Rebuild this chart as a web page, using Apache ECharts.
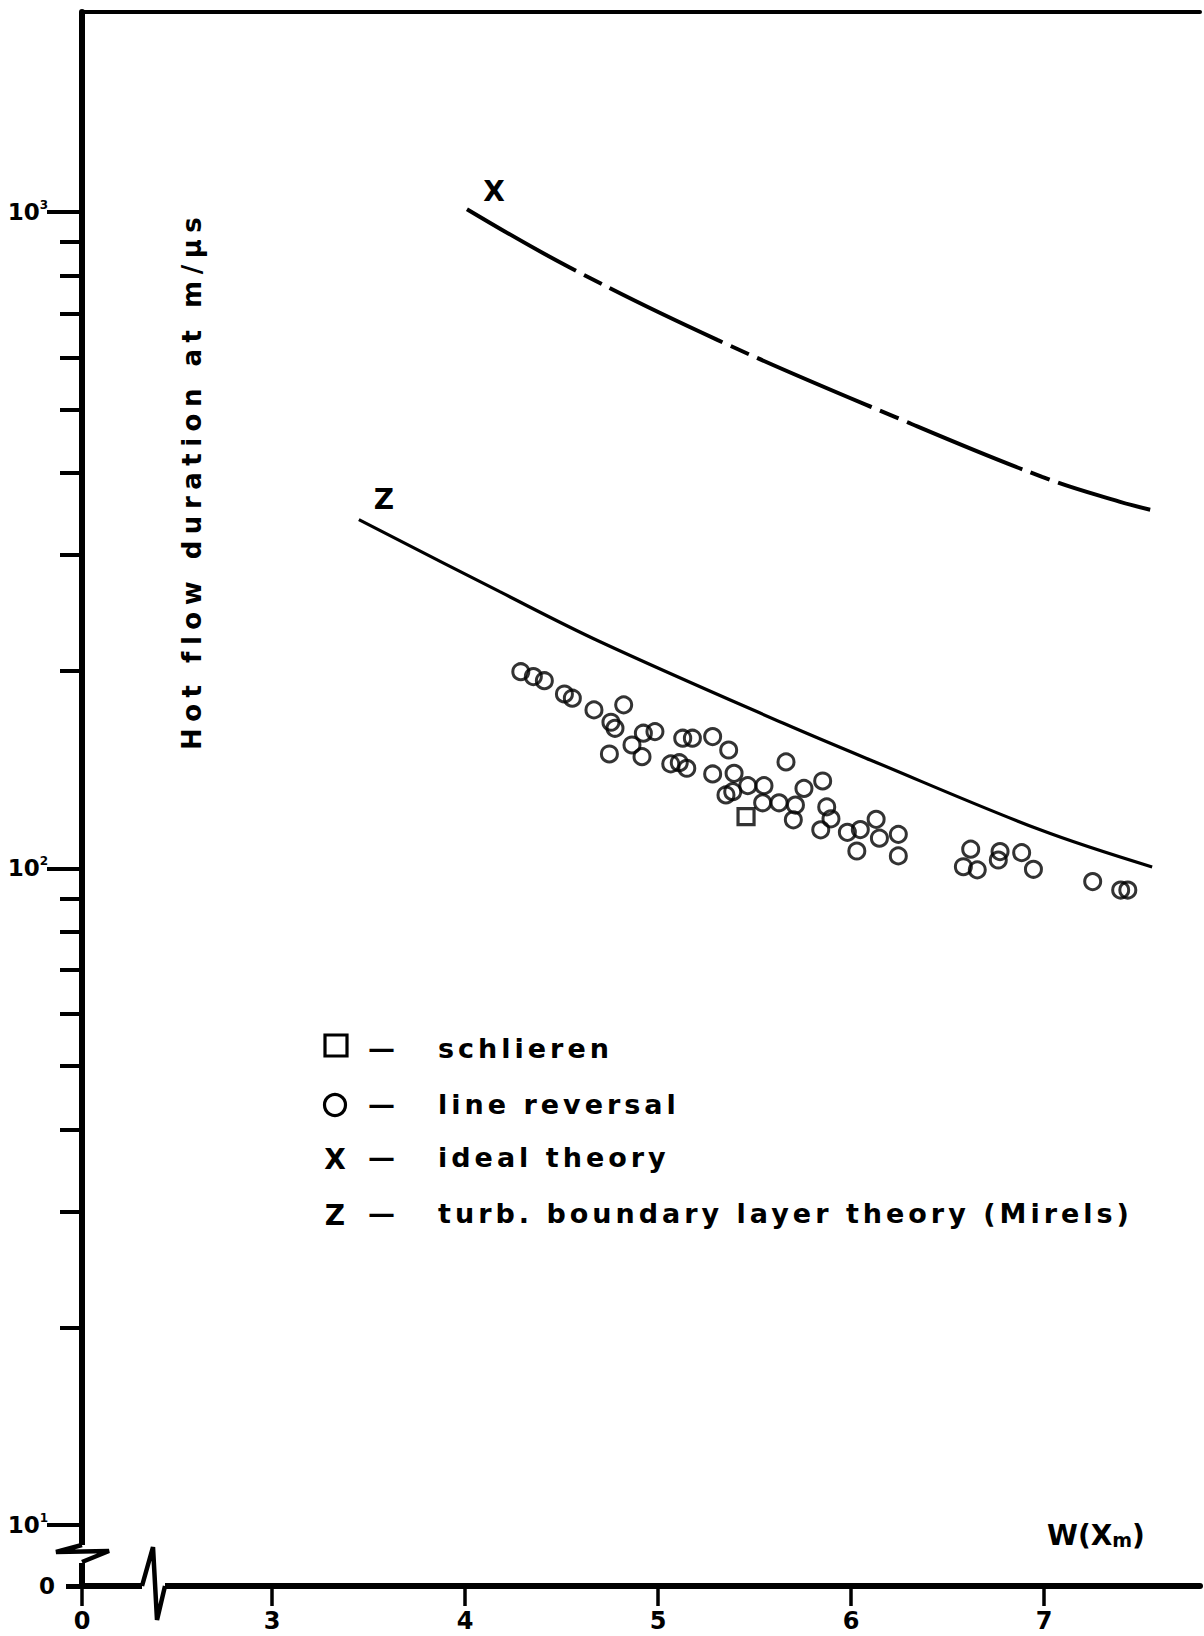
<!DOCTYPE html>
<html>
<head>
<meta charset="utf-8">
<style>
html,body{margin:0;padding:0;background:#fff;}
#chart{width:1204px;height:1636px;}
#chart text[style*="27px"]{letter-spacing:4px;}
#chart text[style*="26px"]{letter-spacing:6.5px;}
</style>
<script src="https://cdn.jsdelivr.net/npm/echarts@6/dist/echarts.min.js"></script>
</head>
<body>
<div id="chart"></div>
<script>
// ---- data ----
const lineReversalX = [4.289,4.354,4.411,4.515,4.556,4.668,4.822,4.756,4.777,4.748,4.865,4.924,4.984,4.917,5.128,5.178,5.283,5.366,5.066,5.110,5.149,5.283,5.394,5.352,5.387,5.465,5.549,5.663,5.542,5.627,5.712,5.756,5.853,5.701,5.874,5.896,5.843,5.981,6.048,6.130,6.147,6.245,6.245,6.030,6.620,6.582,6.654,6.772,6.763,6.884,6.945,7.252,7.397,7.434];
const lineReversalY = [199.4,196.0,193.2,184.4,181.7,174.4,177.5,167.0,163.5,149.4,154.2,160.7,161.6,148.0,157.9,157.9,158.8,151.5,144.3,144.9,142.1,139.3,139.6,129.4,130.9,133.7,133.7,145.3,125.9,125.9,124.9,132.4,135.9,118.6,124.1,119.0,114.5,113.5,114.6,118.8,111.2,112.7,104.5,106.3,107.0,100.6,99.5,106.1,103.0,105.7,99.7,95.5,92.7,92.7];
const schlierenX = [5.456];
const schlierenY = [119.9];
const idealX = [4.01,4.55,5.31,6.23,6.99,7.39,7.55];
const idealY = [1010,821,638,487,395,362,352];
const mirelsX = [3.45,4.18,4.70,5.65,6.10,6.98,7.56];
const mirelsY = [340,264,221.5,166.4,146.3,114.5,100.5];
const xTickValues = [3,4,5,6,7];
const yMajorTicks = [10,100,1000];
const yMinorTicks = [20,30,40,50,60,70,80,90,200,300,400,500,600,700,800,900];
const legendLabels = ['schlieren','line reversal','ideal theory','turb. boundary layer theory (Mirels)'];
const curveLetters = ['X','Z'];

// axis ranges (origin of the broken axes is labelled 0)
const xMin = 2.0155, xMax = 7.808;
const yMin = 8.07, yMax = 2017;

const FONT = "'DejaVu Sans'";
const zip = (a,b) => a.map((v,i)=>[v,b[i]]);

const chart = echarts.init(document.getElementById('chart'), null, {renderer:'svg', width:1204, height:1636});

const option = {
  animation:false,
  backgroundColor:'#fff',
  grid:{left:82, top:12, right:4, bottom:50},
  xAxis:[
    {type:'value', min:xMin, max:xMax, position:'bottom',
     axisLine:{onZero:false, lineStyle:{color:'#000', width:6}},
     axisTick:{customValues:[xMin].concat(xTickValues), length:20, lineStyle:{color:'#000', width:3.5}},
     axisLabel:{customValues:[xMin].concat(xTickValues), formatter:v => (v < 2.5 ? '0' : String(v)), margin:23,
                color:'#000', fontFamily:FONT, fontSize:24, fontWeight:'bold'},
     splitLine:{show:false}},
    {type:'value', min:xMin, max:xMax, position:'top',
     axisLine:{onZero:false, lineStyle:{color:'#000', width:4}},
     axisTick:{show:false}, axisLabel:{show:false}, splitLine:{show:false}}
  ],
  yAxis:[
    {type:'log', logBase:10, min:yMin, max:yMax, position:'left',
     axisLine:{onZero:false, lineStyle:{color:'#000', width:6}},
     axisTick:{customValues:yMajorTicks, length:35, lineStyle:{color:'#000', width:4}},
     axisLabel:{customValues:[yMin].concat(yMajorTicks), margin:27,
       formatter:v => (v < 9 ? '{n|0}' : '{n|10}{s|' + Math.round(Math.log10(v)) + '}'),
       rich:{
         n:{fontFamily:FONT, fontSize:23, fontWeight:'bold', color:'#000', lineHeight:26},
         s:{fontFamily:FONT, fontSize:12, fontWeight:'bold', color:'#000', lineHeight:11, verticalAlign:'top', padding:[0,7,0,0]}
       }},
     splitLine:{show:false}},
    {type:'log', logBase:10, min:yMin, max:yMax, position:'left',
     axisLine:{show:false},
     axisTick:{customValues:yMinorTicks, length:22, lineStyle:{color:'#000', width:4}},
     axisLabel:{show:false}, splitLine:{show:false}},
    {type:'log', logBase:10, min:yMin, max:yMax, position:'left',
     axisLine:{show:false},
     axisTick:{customValues:[yMin], length:16, lineStyle:{color:'#000', width:5}},
     axisLabel:{show:false}, splitLine:{show:false}}
  ],
  series:[
    {name:'ideal theory', type:'line', smooth:0.4, symbol:'none', data:zip(idealX, idealY),
     lineStyle:{color:'#000', width:4, type:[125,9,20,9]},
     markPoint:{symbol:'circle', symbolSize:1, itemStyle:{color:'rgba(0,0,0,0)'}, silent:true,
       label:{show:true, formatter:curveLetters[0], offset:[27,-18], color:'#000', fontFamily:FONT, fontSize:28, fontWeight:'bold'},
       data:[{coord:[idealX[0], idealY[0]]}]}},
    {name:'turb. boundary layer theory (Mirels)', type:'line', smooth:0.35, symbol:'none', data:zip(mirelsX, mirelsY),
     lineStyle:{color:'#000', width:3.2},
     markPoint:{symbol:'circle', symbolSize:1, itemStyle:{color:'rgba(0,0,0,0)'}, silent:true,
       label:{show:true, formatter:curveLetters[1], offset:[25,-20], color:'#000', fontFamily:FONT, fontSize:28, fontWeight:'bold'},
       data:[{coord:[mirelsX[0], mirelsY[0]]}]}},
    {name:'line reversal', type:'scatter', symbol:'circle', symbolSize:16, data:zip(lineReversalX, lineReversalY),
     itemStyle:{color:'rgba(255,255,255,0)', borderColor:'#000', borderWidth:3}},
    {name:'schlieren', type:'scatter', symbol:'rect', symbolSize:16, data:zip(schlierenX, schlierenY),
     itemStyle:{color:'rgba(255,255,255,0)', borderColor:'#000', borderWidth:3.2}}
  ]
};
chart.setOption(option);

// decorations: axis breaks, axis title, legend
const o = chart.convertToPixel({gridIndex:0}, [xMin, yMin]);
const ox = o[0], oy = o[1];
const txt = (x, y, text, size, extra) => Object.assign({type:'text', x:x, y:y, z:10,
  style:{text:text, fill:'#000', fontFamily:FONT, fontSize:size, fontWeight:'bold', align:'left', verticalAlign:'middle'}}, extra || {});
const rowY = [1048, 1104, 1157, 1213];
chart.setOption({graphic:[
  // y-axis break
  {type:'rect', z:9, shape:{x:ox-5, y:oy-41, width:10, height:18}, style:{fill:'#fff'}},
  {type:'polyline', z:10, shape:{points:[[ox,oy-41],[ox-26,oy-34],[ox+27,oy-35],[ox,oy-24]]}, style:{fill:'none', stroke:'#000', lineWidth:4.5, lineJoin:'miter'}},
  // x-axis break
  {type:'rect', z:9, shape:{x:ox+60, y:oy-5, width:23, height:10}, style:{fill:'#fff'}},
  {type:'polyline', z:10, shape:{points:[[ox+60,oy],[ox+71,oy-39],[ox+75,oy+34],[ox+83,oy]]}, style:{fill:'none', stroke:'#000', lineWidth:4.5, lineJoin:'miter'}},
  // y-axis title
  txt(192, 750, 'Hot flow duration at m/µs', 26, {rotation:Math.PI/2}),
  // x-axis title
  {type:'text', x:1047, y:1532, z:10, style:{text:'{a|W(X}{b|m}{a|)}', fill:'#000', align:'left', verticalAlign:'middle',
     rich:{a:{fontFamily:FONT, fontSize:28, fontWeight:'bold', lineHeight:34, verticalAlign:'bottom'},
           b:{fontFamily:FONT, fontSize:19, fontWeight:'bold', lineHeight:19, verticalAlign:'bottom'}}}},
  // legend
  {type:'rect', z:10, shape:{x:325, y:1035, width:22, height:21}, style:{fill:'none', stroke:'#000', lineWidth:3.2}},
  {type:'circle', z:10, shape:{cx:335, cy:1105, r:10.5}, style:{fill:'none', stroke:'#000', lineWidth:3.2}},
  {type:'text', x:335, y:rowY[2]+2, z:10, style:{text:curveLetters[0], fill:'#000', fontFamily:FONT, fontSize:28, fontWeight:'bold', align:'center', verticalAlign:'middle'}},
  {type:'text', x:335, y:rowY[3]+2, z:10, style:{text:curveLetters[1], fill:'#000', fontFamily:FONT, fontSize:28, fontWeight:'bold', align:'center', verticalAlign:'middle'}},
  txt(368, rowY[0], '—', 27), txt(368, rowY[1], '—', 27), txt(368, rowY[2], '—', 27), txt(368, rowY[3], '—', 27),
  txt(438, rowY[0], legendLabels[0], 27),
  txt(438, rowY[1], legendLabels[1], 27),
  txt(438, rowY[2], legendLabels[2], 27),
  txt(438, rowY[3], legendLabels[3], 27)
]});
</script>
</body>
</html>
